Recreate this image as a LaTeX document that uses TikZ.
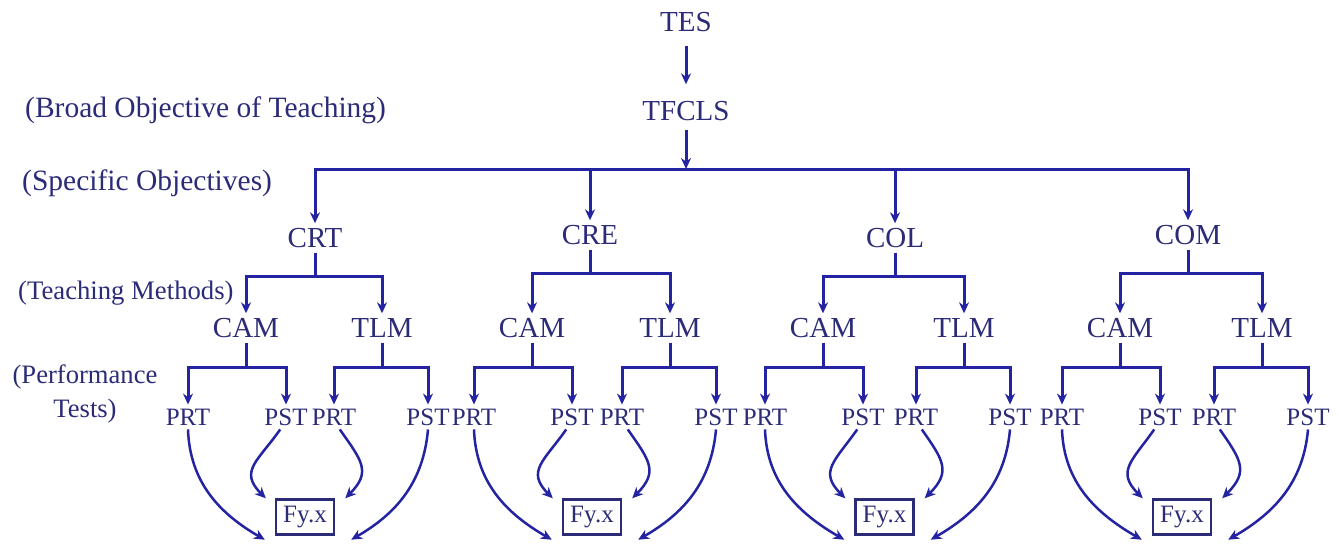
\documentclass[tikz,border=0pt]{standalone}
\usepackage{fontspec}
\setmainfont{Liberation Serif}
\usepackage{tikz}
\usetikzlibrary{arrows.meta, positioning, calc}
\definecolor{tnavy}{HTML}{2B2B78}
\definecolor{tblue}{HTML}{2424A2}

\begin{document}
\begin{tikzpicture}[
  x=1pt, y=1pt,
  lvl/.style={text=tnavy, inner sep=5pt, text height=19pt, text depth=0pt,
    font=\fontsize{29}{31}\selectfont},
  leaf/.style={text=tnavy, inner sep=4pt, text height=16.5pt, text depth=0pt,
    font=\fontsize{25}{27}\selectfont},
  side/.style={text=tnavy, anchor=west, inner sep=0pt,
    font=\fontsize{29.5}{32}\selectfont},
  fybox/.style={draw=tnavy, line width=2.4pt, text=tnavy,
    minimum width=58pt, minimum height=35pt, inner sep=2pt,
    font=\fontsize{25}{27}\selectfont},
  arr/.style={-{Stealth[length=11pt,width=10pt]}, line width=3pt, draw=tblue},
  bendarr/.style={-{Stealth[length=11pt,width=10pt]}, line width=2.5pt, draw=tblue}
]
  \useasboundingbox (0,0) rectangle (1339,-546);

  % level captions on the left
  \node[side] (broad) at (25,-110) {(Broad Objective of Teaching)};
  \node[side] (spec) at (22,-183) {(Specific Objectives)};
  \node[side, font=\fontsize{26.7}{28}\selectfont] (meth) at (18,-293)
    {(Teaching Methods)};
  \node[side, anchor=center, align=center,
    font=\fontsize{26.6}{34}\selectfont] (perf) at (85,-394)
    {(Performance\\Tests)};

  \node[lvl] (tes) at (686,-22) {TES};
  \node[lvl] (tfcls) at (686,-111) {TFCLS};
  \coordinate (hub) at (686,-169);

  \draw[arr, shorten <=9pt, shorten >=12pt] (tes) -- (tfcls);
  \draw[arr, shorten <=4pt] (tfcls) -- (hub);

  \foreach \g/\nm/\tx/\ty/\cx/\lx in {a/CRT/315/238/246/382,
      b/CRE/590/235/532/670, c/COL/895/238/823/964, d/COM/1188/235/1120/1262} {
    \node[lvl] (\g) at (\tx,-\ty) {\nm};
    \draw[arr] (hub) -| (\g);

    \node[lvl] (\g-cam) at (\cx,-328) {CAM};
    \node[lvl] (\g-tlm) at (\lx,-328) {TLM};
    \draw[arr] (\g.south) -- ++(0,-24) -| (\g-cam);
    \draw[arr] (\g.south) -- ++(0,-24) -| (\g-tlm);

    \node[leaf] (\g-p1) at (\cx-58,-417) {PRT};
    \node[leaf] (\g-s1) at (\cx+40,-417) {PST};
    \node[leaf] (\g-p2) at (\lx-48,-417) {PRT};
    \node[leaf] (\g-s2) at (\lx+46,-417) {PST};
    \draw[arr] (\g-cam.south) -- ++(0,-25) -| (\g-p1);
    \draw[arr] (\g-cam.south) -- ++(0,-25) -| (\g-s1);
    \draw[arr] (\g-tlm.south) -- ++(0,-25) -| (\g-p2);
    \draw[arr] (\g-tlm.south) -- ++(0,-25) -| (\g-s2);

    \node[fybox] (\g-fy) at ({(\cx+\lx)/2-9},-517) {Fy.x};
    \draw[bendarr] (\g-p1.south) to[out=-88, in=150]
      ($(\g-fy.south west)+(-10,-4)$);
    \draw[bendarr] (\g-s1.-115) to[out=-125, in=135, looseness=1.4]
      ($(\g-fy.north west)+(-9,0)$);
    \draw[bendarr] (\g-p2.-65) to[out=-55, in=45, looseness=1.4]
      ($(\g-fy.north east)+(10,0)$);
    \draw[bendarr] (\g-s2.south) to[out=-95, in=30]
      ($(\g-fy.south east)+(16,-4)$);
  }
\end{tikzpicture}
\end{document}
